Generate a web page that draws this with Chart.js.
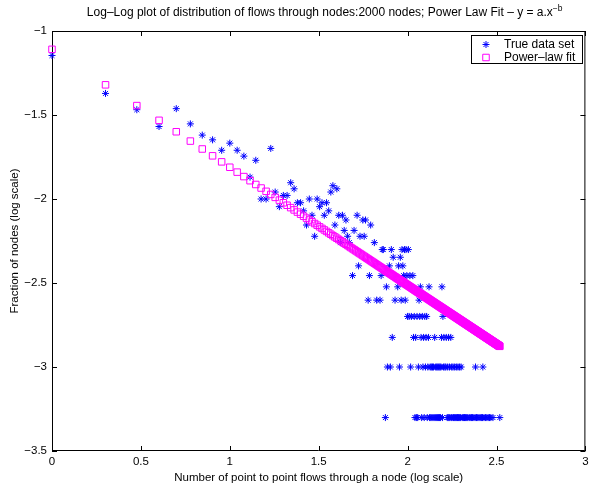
<!DOCTYPE html>
<html>
<head>
<meta charset="utf-8">
<script src="https://cdn.jsdelivr.net/npm/chart.js@4.4.1/dist/chart.umd.min.js"></script>
<style>
  body { margin: 0; background: #fff; }
  #wrap { width: 591px; height: 486px; }
</style>
</head>
<body>
<div id="wrap"><canvas id="myChart"></canvas></div>
<script>
// k = number of point to point flows through a node, count = nodes (of 2000) with exactly k flows
var flows = [1, 2, 3, 4, 5, 6, 7, 8, 9, 10, 11, 12, 13, 14, 15, 16, 17, 18, 19, 20,
    21, 22, 23, 24, 25, 26, 27, 28, 29, 30, 31, 32, 33, 34, 35, 36, 37, 38, 39, 40,
    41, 42, 43, 44, 45, 46, 47, 49, 50, 52, 53, 54, 56, 57, 58, 60, 61, 62, 65, 67,
    70, 71, 72, 73, 75, 76, 77, 79, 80, 81, 82, 83, 85, 88, 89, 90, 91, 92, 93, 94,
    95, 96, 97, 98, 99, 100, 101, 102, 103, 104, 105, 107, 108, 109, 110, 111, 112, 113, 114, 115,
    116, 117, 118, 119, 120, 121, 122, 123, 124, 125, 126, 127, 128, 129, 130, 131, 132, 133, 134, 135,
    136, 137, 138, 139, 140, 141, 142, 143, 144, 145, 146, 147, 148, 149, 150, 151, 152, 153, 154, 155,
    156, 157, 158, 159, 160, 162, 164, 165, 167, 168, 169, 170, 171, 172, 173, 175, 176, 177, 178, 180,
    181, 183, 184, 185, 187, 188, 189, 191, 192, 193, 195, 196, 197, 199, 200, 203, 206, 209, 212, 215,
    218, 222, 225, 229, 232, 236, 240, 241, 244, 248, 252, 256, 260, 264, 265, 269, 274, 279, 284, 289,
    294, 302, 330];
var nodeCounts = [143, 85, 68, 54, 69, 56, 48, 45, 39, 43, 39, 36, 27, 34, 20, 20, 40, 22, 18, 21,
    21, 25, 23, 19, 19, 17, 14, 20, 16, 12, 20, 18, 19, 16, 19, 17, 22, 24, 14, 23,
    16, 11, 16, 13, 15, 12, 11, 7, 13, 16, 8, 12, 15, 12, 15, 5, 7, 14, 11, 5,
    5, 7, 10, 10, 1, 6, 2, 8, 2, 10, 3, 9, 5, 6, 8, 2, 9, 5, 10, 8,
    7, 10, 5, 10, 7, 4, 10, 4, 7, 2, 4, 7, 3, 4, 1, 3, 1, 4, 1, 2,
    5, 4, 6, 3, 1, 4, 2, 3, 1, 4, 2, 3, 4, 1, 2, 3, 6, 1, 2, 1,
    2, 1, 2, 1, 2, 1, 3, 1, 2, 1, 2, 1, 2, 1, 2, 1, 2, 1, 2, 3,
    6, 1, 4, 2, 3, 2, 2, 3, 1, 2, 1, 3, 1, 2, 1, 3, 1, 2, 1, 2,
    1, 1, 2, 1, 1, 2, 1, 1, 2, 1, 1, 2, 1, 1, 2, 1, 1, 1, 1, 1,
    1, 1, 1, 1, 1, 1, 1, 2, 1, 1, 1, 1, 1, 1, 2, 1, 1, 1, 1, 1,
    1, 1, 1];
var totalNodes = 2000;

// power-law fit y = a.x^-b, evaluated at every k from 1 to the largest k seen
var fitA = 0.0778;
var fitB = 0.702;

var xTicks = [0, 0.5, 1, 1.5, 2, 2.5, 3];
var yTicks = [-3.5, -3, -2.5, -2, -1.5, -1];

var font = "'Liberation Sans', Arial, Helvetica, sans-serif";

var truePoints = flows.map(function (k, i) {
    return { x: Math.log10(k), y: Math.log10(nodeCounts[i] / totalNodes) };
});
var fitPoints = [];
for (var k = 1; k <= flows[flows.length - 1]; k++) {
    fitPoints.push({ x: Math.log10(k), y: Math.log10(fitA) - fitB * Math.log10(k) });
}

function minusSign(v) {
    return String(v).replace('-', '\u2212');
}

// matlab style box with inward ticks on all four sides, title and legend
var axesBox = {
    id: 'axesBox',
    beforeDatasetsDraw: function (chart) {
        var ctx = chart.ctx, a = chart.chartArea;
        var xs = chart.scales.x, ys = chart.scales.y;
        ctx.save();
        ctx.strokeStyle = '#000';
        ctx.lineWidth = 1;
        ctx.beginPath();
        ctx.rect(a.left + 0.5, a.top + 0.5, a.right - a.left - 1, a.bottom - a.top - 1);
        xTicks.forEach(function (v) {
            var p = Math.round(xs.getPixelForValue(v)) + 0.5;
            ctx.moveTo(p, a.bottom); ctx.lineTo(p, a.bottom - 5);
            ctx.moveTo(p, a.top); ctx.lineTo(p, a.top + 5);
        });
        yTicks.forEach(function (v) {
            var p = Math.round(ys.getPixelForValue(v)) + 0.5;
            ctx.moveTo(a.left, p); ctx.lineTo(a.left + 5, p);
            ctx.moveTo(a.right, p); ctx.lineTo(a.right - 5, p);
        });
        ctx.stroke();
        ctx.restore();
    },
    afterDraw: function (chart) {
        var ctx = chart.ctx, a = chart.chartArea;
        ctx.save();
        var main = 'Log\u2013Log plot of distribution of flows through nodes:2000 nodes; Power Law Fit \u2013 y = a.x';
        var sup = '\u2212b';
        ctx.fillStyle = '#000';
        ctx.textBaseline = 'alphabetic';
        ctx.font = '12px ' + font;
        var w1 = ctx.measureText(main).width;
        ctx.font = '8.5px ' + font;
        var w2 = ctx.measureText(sup).width;
        var x0 = (a.left + a.right) / 2 + 6 - (w1 + w2) / 2;
        ctx.font = '12px ' + font;
        ctx.textAlign = 'left';
        ctx.fillText(main, x0, 16);
        ctx.font = '8.5px ' + font;
        ctx.fillText(sup, x0 + w1, 11);

        var lx = 471, ly = 35, lw = 111, lh = 28;
        ctx.fillStyle = '#fff';
        ctx.fillRect(lx, ly, lw, lh);
        ctx.strokeStyle = '#000';
        ctx.lineWidth = 1;
        ctx.strokeRect(lx + 0.5, ly + 0.5, lw, lh);
        chart.data.datasets.forEach(function (d, i) {
            var yy = ly + 9.5 + i * 13;
            ctx.strokeStyle = d.borderColor;
            ctx.fillStyle = 'rgba(0,0,0,0)';
            ctx.lineWidth = 1;
            Chart.helpers.drawPoint(ctx, { pointStyle: d.pointStyle, radius: d.pointRadius, borderWidth: 1 }, lx + 15, yy);
            ctx.fillStyle = '#000';
            ctx.font = '12px ' + font;
            ctx.textBaseline = 'middle';
            ctx.fillText(d.label, lx + 33, yy + 0.5);
        });
        ctx.restore();
    }
};

var ctx = document.getElementById('myChart').getContext('2d');
var myChart = new Chart(ctx, {
    type: 'scatter',
    data: {
        datasets: [{
            label: 'True data set',
            data: truePoints,
            pointStyle: 'star',
            pointRadius: 3.5,
            borderWidth: 1,
            borderColor: '#0000ff',
            backgroundColor: '#0000ff',
            clip: false,
            order: 1
        }, {
            label: 'Power\u2013law fit',
            data: fitPoints,
            pointStyle: 'rect',
            pointRadius: 4.6,
            borderWidth: 1,
            borderColor: '#ff00ff',
            backgroundColor: 'rgba(0,0,0,0)',
            clip: false,
            order: 0
        }]
    },
    options: {
        responsive: true,
        maintainAspectRatio: false,
        animation: false,
        events: [],
        layout: {
            padding: { top: 31, right: 5, left: 0, bottom: 0 }
        },
        plugins: {
            legend: { display: false },
            title: { display: false },
            tooltip: { enabled: false }
        },
        scales: {
            x: {
                type: 'linear',
                min: 0,
                max: 3,
                grid: { display: false, drawTicks: false },
                border: { display: false },
                afterBuildTicks: function (s) {
                    s.ticks = xTicks.map(function (v) { return { value: v }; });
                },
                afterFit: function (s) {
                    s.height = 35;
                    s.paddingLeft = 0;
                    s.paddingRight = 0;
                },
                ticks: {
                    color: '#000',
                    padding: 4,
                    maxRotation: 0,
                    autoSkip: false,
                    font: { family: font, size: 11.5 },
                    callback: function (v) { return minusSign(v); }
                },
                title: {
                    display: true,
                    text: 'Number of point to point flows through a node (log scale)',
                    color: '#000',
                    font: { family: font, size: 11.5 },
                    padding: { top: 0, bottom: 1 }
                }
            },
            y: {
                type: 'linear',
                min: -3.5,
                max: -1,
                grid: { display: false, drawTicks: false },
                border: { display: false },
                afterBuildTicks: function (s) {
                    s.ticks = yTicks.map(function (v) { return { value: v }; });
                },
                afterFit: function (s) {
                    s.width = 52;
                    s.paddingTop = 0;
                    s.paddingBottom = 0;
                },
                ticks: {
                    color: '#000',
                    padding: 5,
                    autoSkip: false,
                    font: { family: font, size: 11.5 },
                    callback: function (v) { return minusSign(v); }
                },
                title: {
                    display: true,
                    text: 'Fraction of nodes (log scale)',
                    color: '#000',
                    font: { family: font, size: 11.5 },
                    padding: { top: 8, bottom: 0 }
                }
            }
        }
    },
    plugins: [axesBox]
});
</script>
</body>
</html>
